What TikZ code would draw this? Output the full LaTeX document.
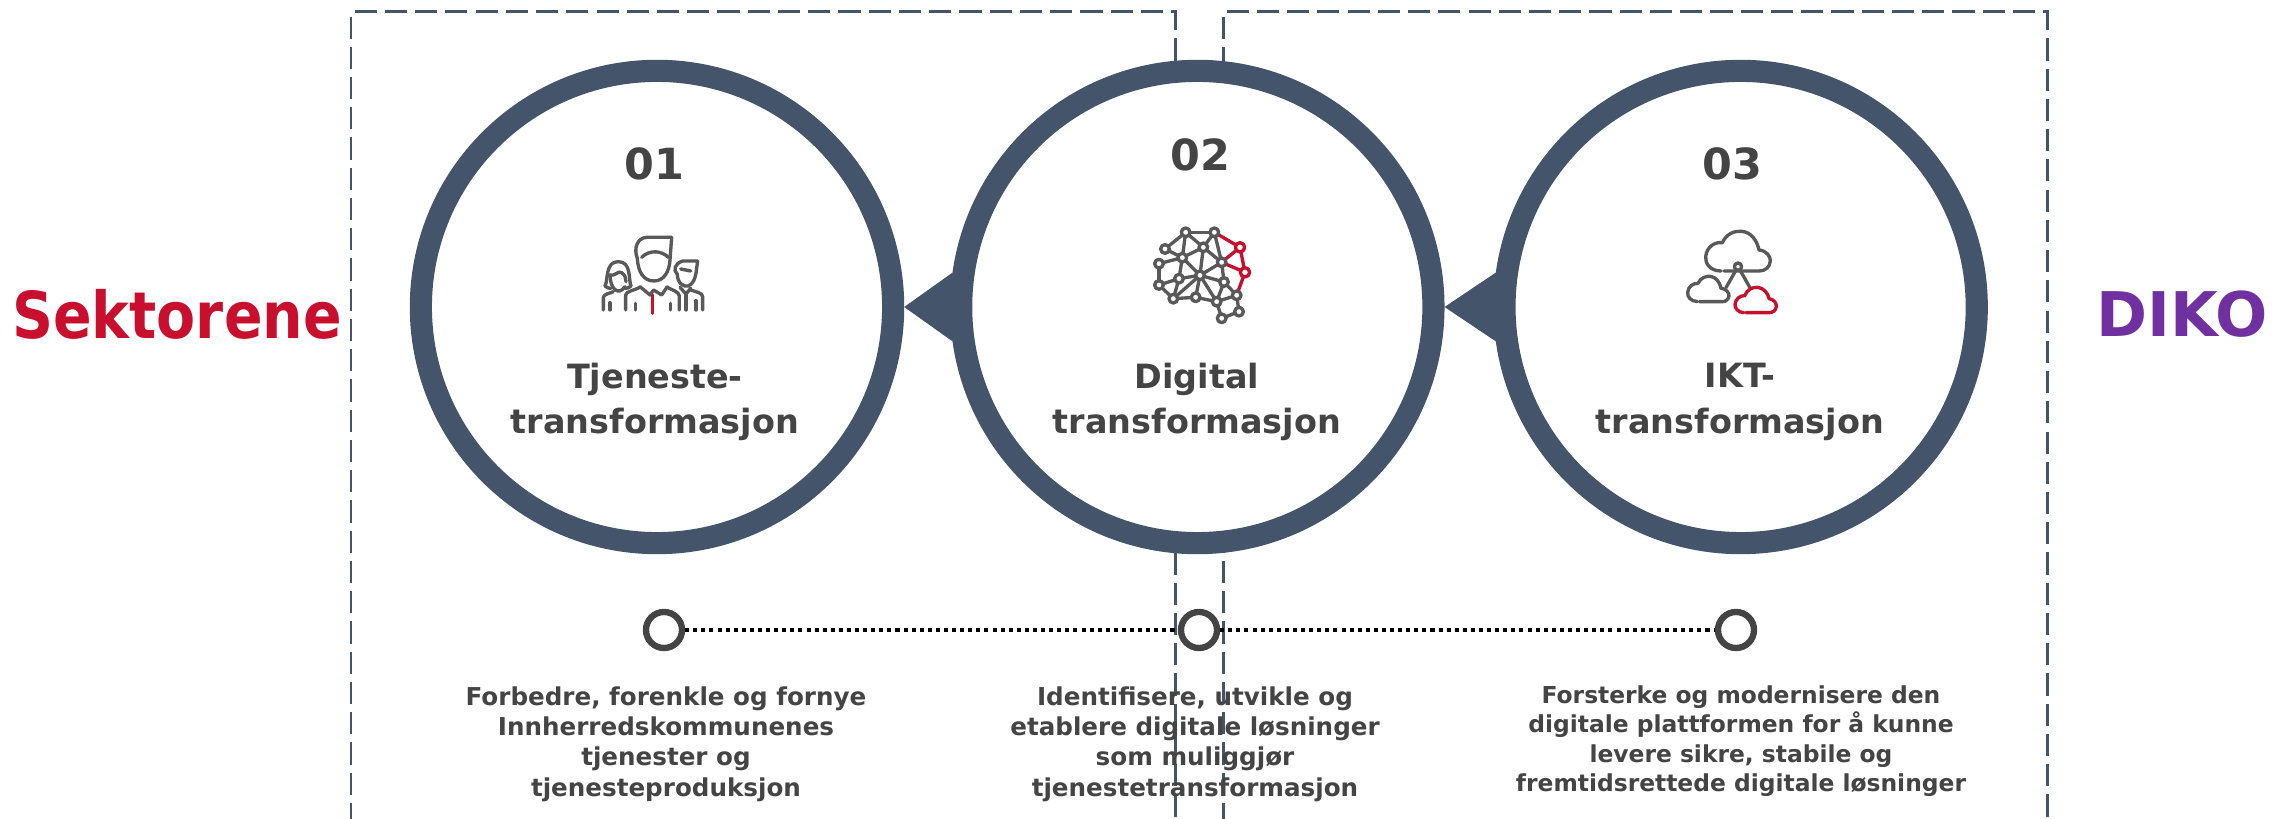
\documentclass[tikz,border=0pt]{standalone}
\usepackage{fontspec}
\setmainfont{DejaVu Sans}
\newfontfamily\narrowfont{DejaVu Sans}[FakeStretch=0.88]
\usepackage{xcolor}
\usetikzlibrary{positioning}
\definecolor{ringblue}{HTML}{44546A}
\definecolor{textgrey}{HTML}{444444}
\definecolor{icongrey}{HTML}{595959}
\definecolor{iconred}{HTML}{C8102E}
\definecolor{dikopurple}{HTML}{7030A0}
\tikzset{
    ring/.style={draw=ringblue, fill=white, circle, line width=6.3pt, inner sep=0pt, minimum size=4.72cm},
    zone/.style={draw=ringblue, line width=0.85pt, dash pattern=on 6.3pt off 2.3pt},
    pointer/.style={fill=ringblue},
    stepdot/.style={draw=textgrey, fill=white, circle, line width=1.8pt, inner sep=0pt, minimum size=0.36cm},
    linkline/.style={line width=1.2pt, dash pattern=on 1.15pt off 1.15pt},
    numlabel/.style={text=textgrey, font=\bfseries\fontsize{12.2}{14}\selectfont},
    titlelabel/.style={text=textgrey, align=center, font=\bfseries\fontsize{9.5}{12.9}\selectfont},
    bodylabel/.style={text=textgrey, align=center, font=\bfseries\fontsize{7}{8.6}\selectfont},
    iconline/.style={draw=icongrey, line width=0.95pt, line cap=round, line join=round},
    iconred/.style={draw=iconred, line width=0.95pt, line cap=round, line join=round},
}
\begin{document}
\begin{tikzpicture}[x=0.01cm, y=-0.01cm, node distance=5.4cm]
    \useasboundingbox (0,0) rectangle (2272,819);

    % dashed zones
    \draw[zone] (351,825) -- (351,12) -- (1175,12) -- (1175,825);
    \draw[zone] (1223,825) -- (1223,12) -- (2047,12) -- (2047,825);

    % rings
    \node[ring] (one) at (657,307) {};
    \node[ring, right of=one] (two) {};
    \node[ring, right of=two, xshift=0.03cm] (three) {};
    \path[pointer] (one.east) -- (two.172) -- (two.188) -- cycle;
    \path[pointer] (two.east) -- (three.172) -- (three.188) -- cycle;

    % side labels
    \node[text=iconred, font=\narrowfont\bfseries\fontsize{18.4}{20}\selectfont] (sektor) at (177,314) {Sektorene};
    \node[text=dikopurple, font=\bfseries\fontsize{17.5}{20}\selectfont] (diko) at (2182,314) {DIKO};

    \node[numlabel] (numone) at (654,164) {01};
    \node[numlabel] (numtwo) at (1200,155) {02};
    \node[numlabel] (numthree) at (1732,164) {03};

    \node[titlelabel] (titleone) at (655,402) {Tjeneste-\\transformasjon};
    \node[titlelabel] (titletwo) at (1197,402) {Digital\\transformasjon};
    \node[titlelabel] (titlethree) at (1740,402) {IKT-\\transformasjon};

    % dots on the line
    \node[stepdot] (dotone) at (664,630) {};
    \node[stepdot] (dottwo) at (1199,630) {};
    \node[stepdot] (dotthree) at (1736,630) {};
    \draw[linkline] (dotone) -- (dottwo);
    \draw[linkline] (dottwo) -- (dotthree);

    \node[bodylabel] (bodyone) at (666,744) {Forbedre, forenkle og fornye\\Innherredskommunenes\\tjenester og\\tjenesteproduksjon};
    \node[bodylabel] (bodytwo) at (1195,744) {Identifisere, utvikle og\\etablere digitale løsninger\\som muliggjør\\tjenestetransformasjon};
    \node[bodylabel, font=\bfseries\fontsize{6.65}{8.35}\selectfont] (bodythree) at (1741,741) {Forsterke og modernisere den\\digitale plattformen for å kunne\\levere sikre, stabile og\\fremtidsrettede digitale løsninger};

    % people icon
    \begin{scope}[shift={(560,180)}, scale=0.3333]
        \draw[iconline] (245,232) .. controls (270,208) and (305,212) .. (325,232);
        \draw[iconline] (335,172) -- (262,172) .. controls (232,172) and (220,205) .. (232,235)
            .. controls (234,275) and (250,303) .. (282,303) .. controls (312,303) and (328,275) .. (330,240) -- (335,172);
        \draw[iconline] (240,320) -- (270,345) -- (281,330) -- (305,345) -- (322,320);
        \draw[iconline] (197,390) -- (197,345) .. controls (197,335) and (225,330) .. (240,322);
        \draw[iconline] (322,322) .. controls (335,330) and (358,335) .. (358,348) -- (358,390);
        \draw[iconline] (226,370) -- (226,390);
        \draw[iconline] (332,370) -- (332,390);
        \draw[iconred] (278,345) -- (278,400);
        % left head
        \draw[iconline] (135,318) .. controls (145,300) and (135,245) .. (175,245) .. controls (215,245) and (205,300) .. (213,318)
            .. controls (205,325) and (200,325) .. (195,325);
        \draw[iconline] (135,318) .. controls (142,325) and (148,325) .. (153,325);
        \draw[iconline] (150,285) .. controls (165,290) and (175,270) .. (185,278) .. controls (195,285) and (198,295) .. (198,305);
        \draw[iconline] (150,285) .. controls (150,325) and (175,350) .. (195,320);
        \draw[iconline] (130,390) -- (130,352) .. controls (132,342) and (150,340) .. (160,335);
        \draw[iconline] (150,368) -- (150,390);
        % right head
        \draw[iconline] (413,243) -- (368,243) .. controls (345,250) and (338,270) .. (352,283)
            .. controls (352,310) and (372,322) .. (385,318) .. controls (400,312) and (405,295) .. (408,280) -- (413,243);
        \draw[iconline] (362,267) -- (392,273);
        \draw[iconline] (360,322) -- (378,342) -- (392,325);
        \draw[iconline] (392,330) .. controls (405,335) and (428,338) .. (428,350) -- (428,390);
        \draw[iconline] (378,345) -- (378,390);
        \draw[iconline] (408,362) -- (408,390);
    \end{scope}

    % network icon
    \begin{scope}[shift={(1120,190)}, scale=0.3333]
        \foreach \name/\px/\py in {a/197/127, b/283/127, c/135/177, d/250/172, e/360/172, f/117/221, g/187/203,
            h/305/217, i/375/247, j/240/256, k/177/266, l/117/285, m/312/276, n/350/316, o/160/326, p/227/322,
            q/290/335, r/357/365, s/305/385}
            \coordinate (\name) at (\px,\py);
        \foreach \from/\to in {a/b, a/c, a/d, a/g, b/d, b/h, c/g, f/g, f/l, g/d, g/j, g/k, d/j, d/h, h/j, h/m,
            j/m, j/k, j/o, j/p, j/q, k/l, k/o, l/o, o/p, p/q, m/n, m/q, n/q, n/r, q/s, r/s}
            \draw[iconline] (\from) -- (\to);
        \foreach \from/\to in {b/e, e/h, e/i, h/i, i/n}
            \draw[iconred] (\from) -- (\to);
        \foreach \name in {a,b,c,d,f,g,h,j,k,l,m,n,o,p,q,r,s}
            \draw[iconline, fill=white] (\name) circle (13);
        \foreach \name in {e,i}
            \draw[iconred, fill=white] (\name) circle (14);
    \end{scope}

    % cloud icon
    \begin{scope}[shift={(1660,200)}, scale=0.3333]
        \draw[iconline] (183,213) .. controls (150,213) and (135,190) .. (137,170) .. controls (140,140) and (165,125) .. (187,128)
            .. controls (200,100) and (225,92) .. (245,94) .. controls (275,96) and (292,125) .. (297,150)
            .. controls (320,152) and (332,170) .. (331,183) .. controls (330,202) and (315,213) .. (298,213) -- (192,213);
        \coordinate (hub) at (234,200);
        \coordinate (hubleft) at (198,263);
        \coordinate (hubright) at (270,263);
        \draw[iconline] (hub) -- (hubleft);
        \draw[iconline] (hub) -- (hubright);
        \draw[iconline, fill=white] (hub) circle (11);
        \draw[iconline] (112,305) .. controls (92,303) and (82,292) .. (83,277) .. controls (85,258) and (100,250) .. (114,250)
            .. controls (122,232) and (140,228) .. (150,229) .. controls (168,230) and (180,248) .. (183,265)
            .. controls (198,266) and (208,278) .. (207,288) .. controls (205,298) and (198,305) .. (188,305) -- (118,305);
        \draw[iconred] (252,338) .. controls (235,338) and (224,325) .. (225,313) .. controls (227,296) and (240,287) .. (254,287)
            .. controls (262,268) and (278,261) .. (292,262) .. controls (310,263) and (325,280) .. (327,296)
            .. controls (342,298) and (350,310) .. (349,320) .. controls (347,332) and (338,338) .. (328,338) -- (258,338);
    \end{scope}
\end{tikzpicture}
\end{document}
